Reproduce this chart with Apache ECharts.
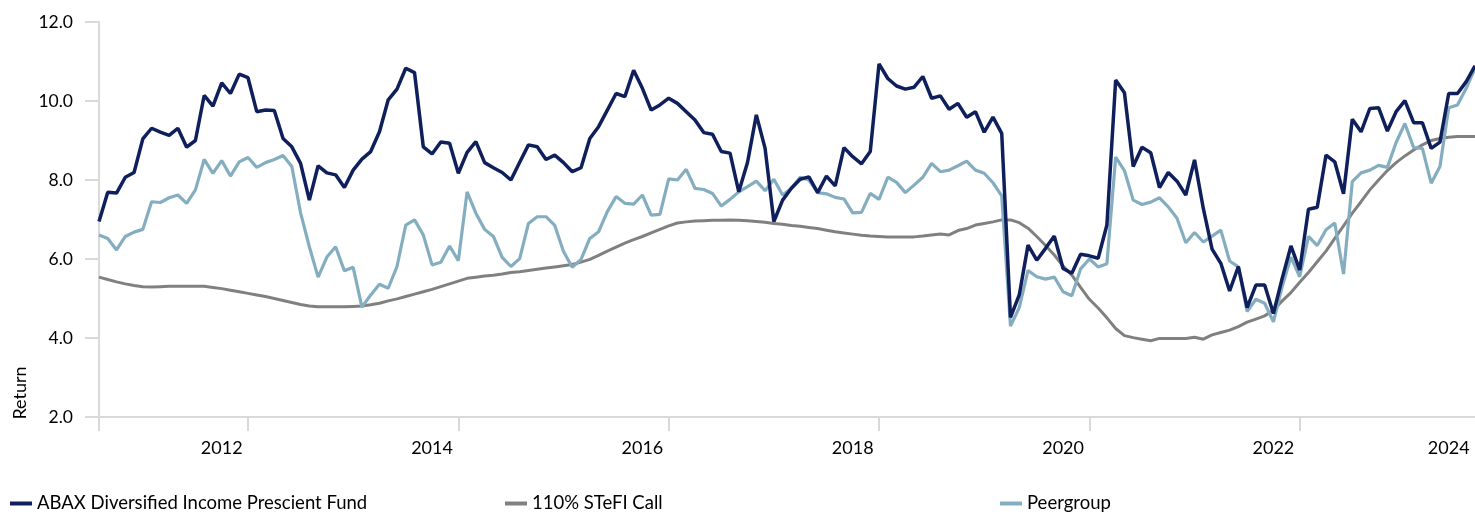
<!DOCTYPE html>
<html>
<head>
<meta charset="utf-8">
<script src="https://cdn.jsdelivr.net/npm/echarts@6/dist/echarts.min.js"></script>
<style>
  html, body { margin: 0; padding: 0; background: #ffffff; }
  #chart { width: 1475px; height: 514px; }
</style>
</head>
<body>
<div id="chart"></div>
<script>
// ---- Data (monthly, starting Nov 2010) ----
const startYear = 2010;
const startMonth = 11;

const fund = [
  6.95, 7.69, 7.67, 8.07, 8.19, 9.04, 9.31, 9.21, 9.13, 9.31,
  8.83, 9.00, 10.14, 9.87, 10.46, 10.19, 10.68, 10.59, 9.73, 9.77,
  9.76, 9.05, 8.84, 8.42, 7.49, 8.36, 8.18, 8.13, 7.81, 8.25,
  8.53, 8.72, 9.22, 10.03, 10.30, 10.83, 10.72, 8.84, 8.66, 8.96,
  8.93, 8.17, 8.70, 8.97, 8.44, 8.31, 8.19, 8.00, 8.45, 8.89,
  8.84, 8.52, 8.63, 8.44, 8.21, 8.31, 9.05, 9.35, 9.77, 10.19,
  10.11, 10.78, 10.32, 9.77, 9.90, 10.07, 9.94, 9.73, 9.52, 9.20,
  9.16, 8.72, 8.68, 7.70, 8.45, 9.65, 8.80, 6.95, 7.49, 7.79,
  8.02, 8.08, 7.68, 8.10, 7.85, 8.82, 8.59, 8.41, 8.72, 10.94,
  10.57, 10.38, 10.30, 10.35, 10.62, 10.07, 10.13, 9.79, 9.94, 9.59,
  9.73, 9.21, 9.59, 9.18, 4.52, 5.09, 6.35, 5.97, 6.27, 6.58,
  5.76, 5.64, 6.12, 6.08, 6.02, 6.86, 10.53, 10.21, 8.34, 8.83,
  8.69, 7.81, 8.19, 7.97, 7.62, 8.51, 7.28, 6.25, 5.89, 5.19,
  5.81, 4.77, 5.34, 5.34, 4.62, 5.51, 6.33, 5.72, 7.26, 7.31,
  8.63, 8.46, 7.65, 9.54, 9.22, 9.81, 9.83, 9.24, 9.73, 10.01,
  9.45, 9.45, 8.80, 8.96, 10.19, 10.19, 10.49, 10.89
];

const stefi = [
  5.54, 5.48, 5.42, 5.37, 5.33, 5.30, 5.29, 5.30, 5.31, 5.31,
  5.31, 5.31, 5.31, 5.28, 5.25, 5.21, 5.17, 5.13, 5.09, 5.05,
  5.00, 4.95, 4.90, 4.85, 4.81, 4.79, 4.79, 4.79, 4.79, 4.80,
  4.81, 4.84, 4.88, 4.94, 4.99, 5.05, 5.11, 5.17, 5.23, 5.30,
  5.37, 5.44, 5.51, 5.54, 5.57, 5.59, 5.62, 5.66, 5.68, 5.71,
  5.74, 5.77, 5.80, 5.83, 5.86, 5.92, 5.99, 6.09, 6.20, 6.30,
  6.40, 6.49, 6.57, 6.66, 6.75, 6.84, 6.91, 6.94, 6.96, 6.97,
  6.98, 6.98, 6.99, 6.98, 6.97, 6.95, 6.93, 6.90, 6.88, 6.85,
  6.83, 6.80, 6.77, 6.73, 6.69, 6.66, 6.63, 6.60, 6.58, 6.57,
  6.56, 6.56, 6.56, 6.56, 6.58, 6.61, 6.63, 6.61, 6.72, 6.77,
  6.86, 6.90, 6.94, 6.99, 6.99, 6.92, 6.78, 6.57, 6.34, 6.10,
  5.82, 5.59, 5.28, 4.98, 4.76, 4.51, 4.24, 4.06, 4.01, 3.97,
  3.93, 3.99, 3.99, 3.99, 3.99, 4.02, 3.97, 4.08, 4.14, 4.20,
  4.29, 4.40, 4.48, 4.56, 4.70, 4.94, 5.15, 5.41, 5.66, 5.93,
  6.20, 6.52, 6.84, 7.16, 7.45, 7.75, 8.00, 8.24, 8.44, 8.61,
  8.76, 8.89, 9.00, 9.05, 9.08, 9.10, 9.10, 9.10
];

const peer = [
  6.61, 6.52, 6.23, 6.57, 6.68, 6.75, 7.45, 7.43, 7.55, 7.62,
  7.41, 7.75, 8.52, 8.17, 8.49, 8.10, 8.46, 8.57, 8.32, 8.44,
  8.52, 8.62, 8.34, 7.17, 6.31, 5.54, 6.05, 6.31, 5.70, 5.79,
  4.78, 5.09, 5.36, 5.26, 5.81, 6.86, 6.99, 6.61, 5.85, 5.92,
  6.33, 5.96, 7.70, 7.16, 6.75, 6.57, 6.04, 5.81, 6.01, 6.90,
  7.07, 7.07, 6.85, 6.19, 5.79, 5.99, 6.52, 6.69, 7.20, 7.58,
  7.41, 7.39, 7.62, 7.11, 7.13, 8.03, 8.00, 8.27, 7.79, 7.76,
  7.66, 7.34, 7.51, 7.70, 7.83, 7.97, 7.73, 8.02, 7.62, 7.79,
  8.07, 8.00, 7.68, 7.65, 7.56, 7.52, 7.17, 7.18, 7.66, 7.51,
  8.07, 7.94, 7.68, 7.87, 8.07, 8.42, 8.21, 8.25, 8.36, 8.48,
  8.25, 8.17, 7.93, 7.60, 4.30, 4.77, 5.71, 5.55, 5.49, 5.54,
  5.17, 5.07, 5.75, 6.00, 5.80, 5.88, 8.58, 8.24, 7.49, 7.38,
  7.44, 7.55, 7.32, 7.03, 6.41, 6.67, 6.43, 6.58, 6.73, 5.95,
  5.80, 4.67, 4.98, 4.88, 4.41, 5.30, 6.05, 5.55, 6.57, 6.34,
  6.74, 6.91, 5.62, 7.96, 8.18, 8.25, 8.37, 8.32, 8.95, 9.43,
  8.82, 8.80, 7.92, 8.34, 9.83, 9.90, 10.32, 10.83
];

const yearLabels = ['2012', '2014', '2016', '2018', '2020', '2022', '2024'];
const seriesNames = ['ABAX Diversified Income Prescient Fund', '110% STeFI Call', 'Peergroup'];
const yAxisTitle = 'Return';

// ---- Build categories (YYYY-MM) ----
const categories = [];
{
  let y = startYear, m = startMonth;
  for (let i = 0; i < fund.length; i++) {
    categories.push(y + '-' + String(m).padStart(2, '0'));
    m++; if (m > 12) { m = 1; y++; }
  }
}

// Year label positions: January of each labelled year; a label beyond the data is kept inside the plot.
const labelAt = {};
yearLabels.forEach(function (yr) {
  let idx = categories.indexOf(yr + '-01');
  if (idx < 0) idx = categories.length - 4;
  labelAt[idx] = yr;
});

function isTick(index) {
  if (index === 0) return true;
  const c = categories[index];
  const yr = parseInt(c.slice(0, 4), 10);
  return c.slice(5) === '04' && yr % 2 === 0;
}

const FONT = 'Lato';
const colors = { fund: '#0E1F5C', stefi: '#808080', peer: '#84AEC0' };

const chart = echarts.init(document.getElementById('chart'), null, { renderer: 'canvas' });

const legendBase = {
  icon: 'rect',
  itemWidth: 22,
  itemHeight: 4,
  padding: 0,
  top: 494,
  textStyle: { fontFamily: FONT, fontSize: 18.5, color: '#000' }
};

chart.setOption({
  animation: false,
  backgroundColor: '#ffffff',
  textStyle: { fontFamily: FONT },
  grid: { left: 99, right: 0, top: 22, bottom: 97, containLabel: false, outerBoundsMode: 'none' },
  legend: [
    Object.assign({}, legendBase, { left: 10, data: [seriesNames[0]] }),
    Object.assign({}, legendBase, { left: 505, data: [seriesNames[1]] }),
    Object.assign({}, legendBase, { left: 1000, data: [seriesNames[2]] })
  ],
  graphic: [{
    type: 'text',
    x: 20,
    y: 393,
    rotation: Math.PI / 2,
    style: {
      text: yAxisTitle,
      fontFamily: FONT,
      fontSize: 18,
      fill: '#000',
      textAlign: 'center',
      textVerticalAlign: 'middle'
    }
  }],
  xAxis: {
    type: 'category',
    data: categories,
    boundaryGap: false,
    axisLine: { show: true, lineStyle: { color: '#d9d9d9', width: 2 } },
    axisTick: {
      show: true,
      length: 14,
      interval: function (index) { return isTick(index); },
      lineStyle: { color: '#d9d9d9', width: 2 }
    },
    axisLabel: {
      show: true,
      margin: 22,
      interval: function (index) { return labelAt[index] !== undefined; },
      formatter: function (value, index) { return labelAt[index] || ''; },
      fontFamily: FONT,
      fontSize: 18,
      color: '#000'
    },
    splitLine: { show: false }
  },
  yAxis: {
    type: 'value',
    min: 2,
    max: 12,
    interval: 2,
    axisLine: { show: true, lineStyle: { color: '#d9d9d9', width: 2 } },
    axisTick: { show: true, length: 14, lineStyle: { color: '#d9d9d9', width: 2 } },
    axisLabel: {
      margin: 26,
      formatter: function (v) { return v.toFixed(1); },
      fontFamily: FONT,
      fontSize: 17.5,
      color: '#000'
    },
    splitLine: { show: false }
  },
  series: [
    {
      name: seriesNames[1],
      type: 'line',
      data: stefi,
      symbol: 'none',
      color: colors.stefi,
      lineStyle: { width: 3, color: colors.stefi },
      z: 2
    },
    {
      name: seriesNames[2],
      type: 'line',
      data: peer,
      symbol: 'none',
      color: colors.peer,
      lineStyle: { width: 3.2, color: colors.peer },
      z: 3
    },
    {
      name: seriesNames[0],
      type: 'line',
      data: fund,
      symbol: 'none',
      color: colors.fund,
      lineStyle: { width: 3.5, color: colors.fund },
      z: 4
    }
  ]
});
</script>
</body>
</html>
